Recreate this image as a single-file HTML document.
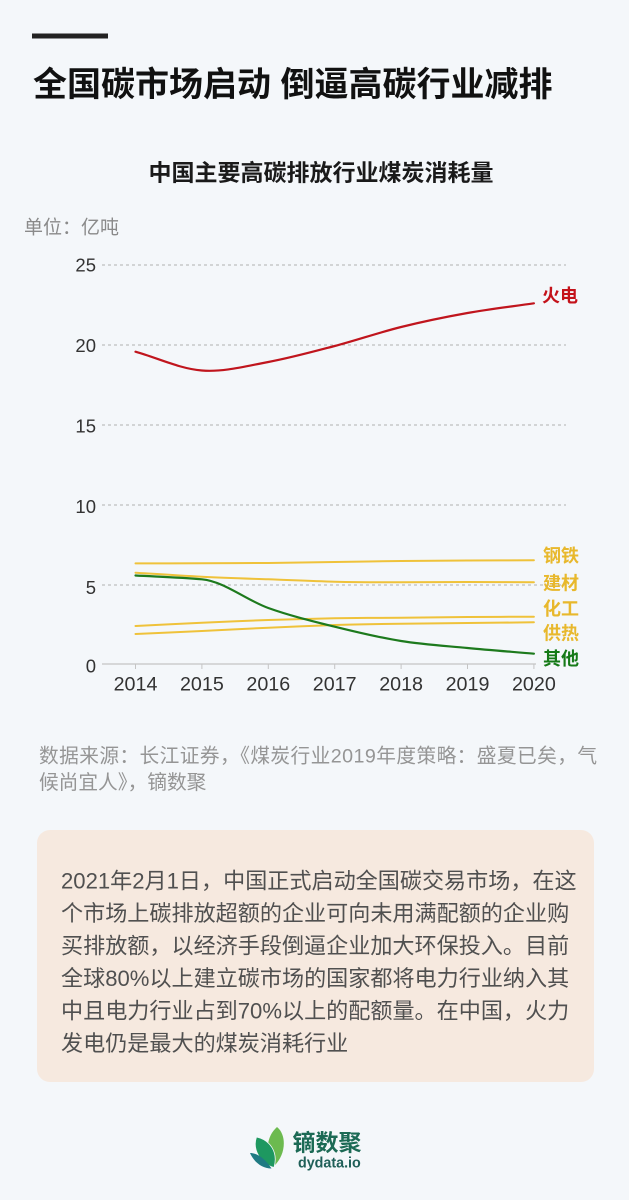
<!DOCTYPE html>
<html>
<head>
<meta charset="utf-8">
<style>
  html, body { margin: 0; padding: 0; }
  body { width: 629px; height: 1200px; background: #f4f7fa; overflow: hidden; }
  svg { display: block; }
  text { font-family: "Liberation Sans", "Noto Sans CJK SC", sans-serif; }
</style>
</head>
<body>
<svg width="629" height="1200" viewBox="0 0 629 1200" xmlns="http://www.w3.org/2000/svg">
  <rect x="0" y="0" width="629" height="1200" fill="#f4f7fa"/>

  <!-- top bar -->
  <rect x="32" y="33.5" width="76" height="5" fill="#222"/>

  <!-- main title -->
  <text x="33" y="96" font-size="34" font-weight="bold" fill="#111">全国碳市场启动 倒逼高碳行业减排</text>

  <!-- chart title -->
  <text x="321" y="180.5" font-size="23" font-weight="bold" fill="#1a1a1a" text-anchor="middle">中国主要高碳排放行业煤炭消耗量</text>

  <!-- unit -->
  <text x="24" y="233.5" font-size="19" fill="#8a8a8a">单位：亿吨</text>

  <!-- gridlines -->
  <g stroke="#b0b0b0" stroke-width="1" stroke-dasharray="3,3" fill="none">
    <line x1="102" y1="265" x2="566" y2="265"/>
    <line x1="102" y1="345" x2="566" y2="345"/>
    <line x1="102" y1="425" x2="566" y2="425"/>
    <line x1="102" y1="505" x2="566" y2="505"/>
    <line x1="102" y1="585" x2="566" y2="585"/>
  </g>
  <!-- x axis -->
  <line x1="102" y1="664" x2="536" y2="664" stroke="#c4c4c4" stroke-width="1.2"/>
  <g stroke="#c4c4c4" stroke-width="1">
    <line x1="135.5" y1="664" x2="135.5" y2="669"/>
    <line x1="201.9" y1="664" x2="201.9" y2="669"/>
    <line x1="268.3" y1="664" x2="268.3" y2="669"/>
    <line x1="334.7" y1="664" x2="334.7" y2="669"/>
    <line x1="401.1" y1="664" x2="401.1" y2="669"/>
    <line x1="467.5" y1="664" x2="467.5" y2="669"/>
    <line x1="533.9" y1="664" x2="533.9" y2="669"/>
  </g>

  <!-- y labels -->
  <g font-size="18.5" fill="#333" text-anchor="end">
    <text x="96" y="271.5">25</text>
    <text x="96" y="352">20</text>
    <text x="96" y="432.5">15</text>
    <text x="96" y="513">10</text>
    <text x="96" y="594">5</text>
    <text x="96" y="672.5">0</text>
  </g>

  <!-- x labels -->
  <g font-size="19.7" fill="#333" text-anchor="middle">
    <text x="135.5" y="690.7">2014</text>
    <text x="201.9" y="690.7">2015</text>
    <text x="268.3" y="690.7">2016</text>
    <text x="334.7" y="690.7">2017</text>
    <text x="401.1" y="690.7">2018</text>
    <text x="467.5" y="690.7">2019</text>
    <text x="533.9" y="690.7">2020</text>
  </g>

  <!-- yellow series -->
  <g fill="none" stroke="#efc23a" stroke-width="2" stroke-linejoin="round" stroke-linecap="round">
    <!-- 钢铁 -->
    <path d="M135.5,563.4 C157.6,563.4 179.8,563.3 201.9,563.2 C224,563.1 246.2,563.2 268.3,563 C290.4,562.8 312.6,562.3 334.7,562 C356.8,561.7 379,561.2 401.1,561 C423.2,560.8 445.4,560.6 467.5,560.5 C489.6,560.4 511.8,560.3 533.9,560.3"/>
    <!-- 建材 -->
    <path d="M135.5,572.7 C157.6,574.1 179.8,575.6 201.9,576.7 C224,577.8 246.2,578.5 268.3,579.3 C290.4,580.1 312.6,581.2 334.7,581.7 C356.8,582.2 379,582.3 401.1,582.3 C423.2,582.3 445.4,582 467.5,582 C489.6,582 511.8,582.2 533.9,582.3"/>
    <!-- 化工 -->
    <path d="M135.5,626 C157.6,624.9 179.8,623.7 201.9,622.7 C224,621.7 246.2,620.7 268.3,620 C290.4,619.3 312.6,618.7 334.7,618.3 C356.8,617.9 379,617.9 401.1,617.7 C423.2,617.5 445.4,617.2 467.5,617 C489.6,616.8 511.8,616.8 533.9,616.7"/>
    <!-- 供热 -->
    <path d="M135.5,634 C157.6,633 179.8,632.1 201.9,631 C224,629.9 246.2,628.7 268.3,627.7 C290.4,626.7 312.6,625.7 334.7,625 C356.8,624.3 379,624 401.1,623.7 C423.2,623.4 445.4,623.2 467.5,623 C489.6,622.8 511.8,622.5 533.9,622.3"/>
  </g>

  <!-- 其他 green -->
  <path d="M135.5,575.5 C157.6,576.7 179.8,577.3 201.9,579.3 C224,581.3 246.2,600.1 268.3,608 C290.4,615.9 312.6,621.2 334.7,626.7 C356.8,632.2 379,637.45 401.1,641 C423.2,644.55 445.4,645.88 467.5,648 C489.6,650.12 511.8,651.8 533.9,653.7" fill="none" stroke="#1d7a1d" stroke-width="2.2" stroke-linecap="round"/>

  <!-- 火电 red -->
  <path d="M135.5,351.7 C157.63,357.97 179.77,368.78 201.9,370.5 C224.03,372.22 246.17,366.08 268.3,362 C290.43,357.92 312.57,351.83 334.7,346 C356.83,340.17 378.97,332.5 401.1,327 C423.23,321.5 445.37,316.95 467.5,313 C489.63,309.05 511.77,306.53 533.9,303.3" fill="none" stroke="#c0151d" stroke-width="2.2" stroke-linecap="round"/>

  <!-- series labels -->
  <g font-size="18" font-weight="bold">
    <text x="542" y="301.8" fill="#c4121a">火电</text>
    <text x="543" y="561.8" fill="#e8b82c">钢铁</text>
    <text x="543" y="589.5" fill="#e8b82c">建材</text>
    <text x="543" y="614.8" fill="#e8b82c">化工</text>
    <text x="543" y="639.5" fill="#e8b82c">供热</text>
    <text x="543" y="665" fill="#167a18">其他</text>
  </g>

  <!-- source -->
  <g font-size="19.7" fill="#959595">
    <text x="39" y="762.3" textLength="558" lengthAdjust="spacing">数据来源：长江证券，《煤炭行业2019年度策略：盛夏已矣，气</text>
    <text x="39" y="789">候尚宜人》，镝数聚</text>
  </g>

  <!-- description box -->
  <rect x="37" y="830" width="557" height="252" rx="13" ry="13" fill="#f6e9df"/>
  <g font-size="22.1" fill="#505050">
    <text x="61" y="888.4">2021年2月1日，中国正式启动全国碳交易市场，在这</text>
    <text x="61" y="921">个市场上碳排放超额的企业可向未用满配额的企业购</text>
    <text x="61" y="953.4">买排放额，以经济手段倒逼企业加大环保投入。目前</text>
    <text x="61" y="986">全球80%以上建立碳市场的国家都将电力行业纳入其</text>
    <text x="61" y="1018.4">中且电力行业占到70%以上的配额量。在中国，火力</text>
    <text x="61" y="1051">发电仍是最大的煤炭消耗行业</text>
  </g>

  <!-- logo -->
  <g>
    <path d="M277,1127 C287,1135 286,1155 274,1166 C265,1152 266,1137 277,1127 Z" fill="#6cba4f"/>
    <path d="M256.5,1137 C270,1140 278.5,1152 274,1167.5 C261,1164 252,1150 256.5,1137 Z" fill="#1e9860" stroke="#f4f7fa" stroke-width="0.8"/>
    <path d="M250,1153 C258,1153 266,1160 271.5,1168.5 C262,1168.5 254,1162 250,1153 Z" fill="#1f7a82"/>
  </g>
  <text x="292.5" y="1150.3" font-size="23" font-weight="bold" fill="#1c6a55">镝数聚</text>
  <text x="298" y="1167.3" font-size="14.3" font-weight="bold" fill="#1f5f58">dydata.io</text>
</svg>
</body>
</html>
